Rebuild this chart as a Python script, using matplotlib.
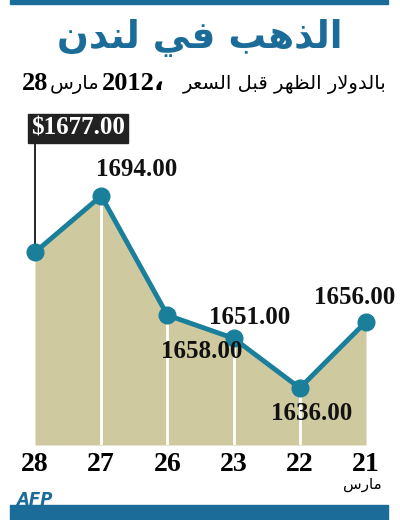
import matplotlib
matplotlib.use("Agg")
import matplotlib.pyplot as plt
from matplotlib.patches import Rectangle

days = ["28", "27", "26", "23", "22", "21"]
prices = [1677.0, 1694.0, 1658.0, 1651.0, 1636.0, 1656.0]
title = "الذهب في لندن"
subtitle_words = ["مارس", "السعر", "قبل", "الظهر", "بالدولار"]
month = "مارس"

FORMS = {
 'ا': (0xFE8D, 0xFE8E, None, None), 'ب': (0xFE8F, 0xFE90, 0xFE91, 0xFE92),
 'د': (0xFEA9, 0xFEAA, None, None), 'ذ': (0xFEAB, 0xFEAC, None, None),
 'ر': (0xFEAD, 0xFEAE, None, None), 'س': (0xFEB1, 0xFEB2, 0xFEB3, 0xFEB4),
 'ظ': (0xFEC5, 0xFEC6, 0xFEC7, 0xFEC8), 'ع': (0xFEC9, 0xFECA, 0xFECB, 0xFECC),
 'ف': (0xFED1, 0xFED2, 0xFED3, 0xFED4), 'ق': (0xFED5, 0xFED6, 0xFED7, 0xFED8),
 'ل': (0xFEDD, 0xFEDE, 0xFEDF, 0xFEE0), 'م': (0xFEE1, 0xFEE2, 0xFEE3, 0xFEE4),
 'ن': (0xFEE5, 0xFEE6, 0xFEE7, 0xFEE8), 'ه': (0xFEE9, 0xFEEA, 0xFEEB, 0xFEEC),
 'و': (0xFEED, 0xFEEE, None, None), 'ي': (0xFEF1, 0xFEF2, 0xFEF3, 0xFEF4),
 'LA': (0xFEFB, 0xFEFC, None, None),
}

def shape_word(w):
    letters = []
    i = 0
    while i < len(w):
        if w[i] == 'ل' and i + 1 < len(w) and w[i+1] == 'ا':
            letters.append('LA'); i += 2
        else:
            letters.append(w[i]); i += 1
    out = []
    for k, c in enumerate(letters):
        f = FORMS.get(c)
        if f is None:
            out.append(c); continue
        prev_joins = k > 0 and FORMS.get(letters[k-1]) is not None and FORMS[letters[k-1]][2] is not None
        next_exists = k + 1 < len(letters) and FORMS.get(letters[k+1]) is not None
        can_next = f[2] is not None and next_exists
        if prev_joins and can_next: g = f[3]
        elif prev_joins: g = f[1]
        elif can_next: g = f[2]
        else: g = f[0]
        out.append(chr(g))
    return "".join(reversed(out))

def shape_line(s):
    return " ".join(shape_word(w) for w in reversed(s.split(" ")))

fig = plt.figure(figsize=(4, 5.2), dpi=100)
W, H = 400, 520
def fx(px): return px / W
def fy(py): return 1 - py / H

blue = "#1b6c98"
teal = "#1a7f9a"
fill = "#cfc9a0"
serif = "Liberation Serif"

fig.add_artist(Rectangle((fx(10), fy(4)), fx(378), 4 / H, color=blue, transform=fig.transFigure))
fig.add_artist(Rectangle((fx(10), fy(520)), fx(378), 15 / H, color=blue, transform=fig.transFigure))

fig.text(0.5, fy(38), shape_line(title), ha="center", va="center", fontsize=27,
         fontweight="bold", color=blue, family=["DejaVu Sans"])
# subtitle, visual left-to-right
fig.text(fx(22), fy(83), "28", ha="left", va="center", fontsize=19, fontweight="bold", family=serif)
fig.text(fx(50), fy(84), shape_word(subtitle_words[0]), ha="left", va="center", fontsize=14, family=["DejaVu Sans"])
fig.text(fx(102), fy(83), "2012" + chr(0x060C), ha="left", va="center", fontsize=19, fontweight="bold",
         family=[serif, "DejaVu Sans"])
fig.text(fx(386), fy(84), " ".join(shape_word(w) for w in subtitle_words[1:]), ha="right", va="center",
         fontsize=14, family=["DejaVu Sans"])

bottom_px, top_px = 445, 176
ax = fig.add_axes([fx(35), fy(bottom_px), fx(366) - fx(35), (bottom_px - top_px) / H])
x = list(range(len(days)))
ax.set_xlim(0, 5)
ax.set_ylim(1618.8, 1700)
ax.fill_between(x, 1618.8, prices, color=fill, lw=0)
ax.vlines(x[1:-1], 1618.8, prices[1:-1], color="white", lw=2)
ax.plot(x, prices, color=teal, lw=3.5, marker="o", ms=12, clip_on=False, zorder=5)
ax.axis("off")

ax.plot([0, 0], [prices[0], 1712], color="black", lw=1.2, clip_on=False)
fig.text(fx(78), fy(128), "$%.2f" % prices[0], ha="center", va="center", fontsize=18, fontweight="bold",
         color="white", family=serif,
         bbox=dict(boxstyle="square,pad=0.12", fc="#222222", ec="#222222"))

label_pos = {1: (137, 170), 2: (202, 352), 3: (250, 318), 4: (312, 414), 5: (355, 297)}
for i, (px, py) in label_pos.items():
    fig.text(fx(px), fy(py), "%.2f" % prices[i], ha="center", va="center", fontsize=18,
             fontweight="bold", family=serif, color="#111111")

for i, d in enumerate(days):
    ax.annotate(d, (i, 1618.8), xytext=(0, -14), textcoords="offset points", ha="center", va="center",
                fontsize=20, fontweight="bold", family=serif, annotation_clip=False)
fig.text(fx(362), fy(484), shape_word(month), ha="center", va="center", fontsize=11, family=["DejaVu Sans"])
fig.text(fx(16), fy(500), "AFP", ha="left", va="center", fontsize=12, fontweight="bold",
         style="italic", color=blue, family=["DejaVu Sans"])

fig.savefig("out.png", dpi=100)
